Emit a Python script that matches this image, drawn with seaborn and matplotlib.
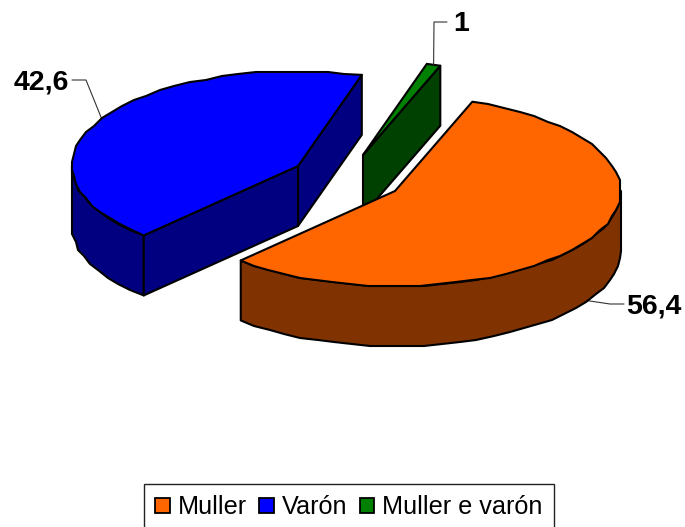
#!/usr/bin/env python3
# Exploded 3D-look pie: top faces, rims and cut walls are built from the shares
import numpy as np
import seaborn as sns
import matplotlib.pyplot as plt
from matplotlib.patches import Patch, Polygon

CATEGORIES = ["Muller", "Varón", "Muller e varón"]
VALUES = [56.4, 42.6, 1]
TOP_COLORS = ["#FF6600", "#0000FF", "#008000"]
SIDE_COLORS = ["#803300", "#000080", "#004000"]

# layout, in pixels
START_ANGLE = 70
RX, RY, DEPTH = 226, 95, 60
APEX = [(395, 191), (298, 166), (363, 155)]
ELBOWS = [[(610, 304), (624, 304)], [(86, 80), (72, 80)], [(434, 22), (447, 22)]]
LABEL_POS = [(626, 306, "left"), (69, 82, "right"), (453, 24, "left")]
SNAP = 2.0  # the reference has a stepped outline


def arc(apex, a0, a1, step=4.5):
    n = max(int(abs(a1 - a0) / step), 1)
    t = np.radians(np.linspace(a0, a1, n + 1))
    x = apex[0] + RX * np.cos(t)
    y = apex[1] - RY * np.sin(t)
    x[1:-1] = np.round(x[1:-1] / SNAP) * SNAP
    y[1:-1] = np.round(y[1:-1] / SNAP) * SNAP
    return np.column_stack([x, y])


def face(ax, pts, color, z):
    ax.add_patch(Polygon(pts, closed=True, fc=color, ec="black", lw=1.5, joinstyle="round", zorder=z))


def wall(ax, p, q, color, z):
    p, q = np.asarray(p, float), np.asarray(q, float)
    d = np.array([0, DEPTH])
    face(ax, [p, q, q + d, p + d], color, z)


def rim(ax, apex, a0, a1, color, z):
    top = arc(apex, a0, a1)
    face(ax, np.vstack([top, top[::-1] + [0, DEPTH]]), color, z)


def main():
    sns.set_theme(style="white")
    plt.rcParams["font.family"] = ["Liberation Sans", "DejaVu Sans"]

    fig, ax = plt.subplots(figsize=(6.85, 5.27), dpi=100)
    ax.set_position([0, 0, 1, 1])
    ax.set_xlim(0, 685)
    ax.set_ylim(527, 0)
    ax.axis("off")

    # slice angles from the shares, clockwise
    sweeps = np.array(VALUES) / sum(VALUES) * 360
    ends = START_ANGLE - np.cumsum(sweeps)
    starts = ends + sweeps

    # Muller e varón (back), Varón, then Muller in front
    a0, a1, apex = starts[2], ends[2], APEX[2]
    z = 1
    wall(ax, apex, arc(apex, a1, a1)[0], SIDE_COLORS[2], z)
    face(ax, np.vstack([[apex], arc(apex, a0, a1)]), TOP_COLORS[2], z + 1)

    a0, a1, apex = starts[1], ends[1], APEX[1]
    z = 3
    wall(ax, apex, arc(apex, a1, a1)[0], SIDE_COLORS[1], z)
    rim(ax, apex, a0, -180, SIDE_COLORS[1], z)
    wall(ax, apex, arc(apex, a0, a0)[0], SIDE_COLORS[1], z)
    face(ax, np.vstack([[apex], arc(apex, a0, a1)]), TOP_COLORS[1], z + 1)

    a0, a1, apex = starts[0], ends[0], APEX[0]
    z = 5
    rim(ax, apex, 0, a1, SIDE_COLORS[0], z)
    face(ax, np.vstack([[apex], arc(apex, a0, a1)]), TOP_COLORS[0], z + 1)

    # leader lines start on the rim at each slice's mid angle
    for i, v in enumerate(VALUES):
        mid = np.radians((starts[i] + ends[i]) / 2)
        sx = APEX[i][0] + RX * np.cos(mid)
        sy = APEX[i][1] - RY * np.sin(mid)
        if np.sin(mid) < 0:
            sy += DEPTH
        xs = [sx] + [p[0] for p in ELBOWS[i]]
        ys = [sy] + [p[1] for p in ELBOWS[i]]
        ax.plot(xs, ys, color="#333333", lw=0.8, zorder=2)
        lx, ly, ha = LABEL_POS[i]
        ax.text(lx, ly, f"{v:g}".replace(".", ","), ha=ha, va="center",
                fontsize=20.5, fontweight="bold", color="black")

    handles = [Patch(fc=c, ec="black", lw=1.3) for c in TOP_COLORS]
    leg = ax.legend(handles, CATEGORIES, loc="upper left", bbox_to_anchor=(144, 484),
                    bbox_transform=ax.transData, borderaxespad=0, ncol=3, fontsize=18.2,
                    frameon=True, fancybox=False, framealpha=1, edgecolor="#222222",
                    handlelength=0.58, handleheight=0.58, handletextpad=0.3,
                    columnspacing=0.5, borderpad=0.45, labelspacing=0)
    leg.get_frame().set_linewidth(1.0)
    for t in leg.get_texts():
        t.set_color("black")

    fig.savefig("out.png", dpi=100)


if __name__ == "__main__":
    main()
